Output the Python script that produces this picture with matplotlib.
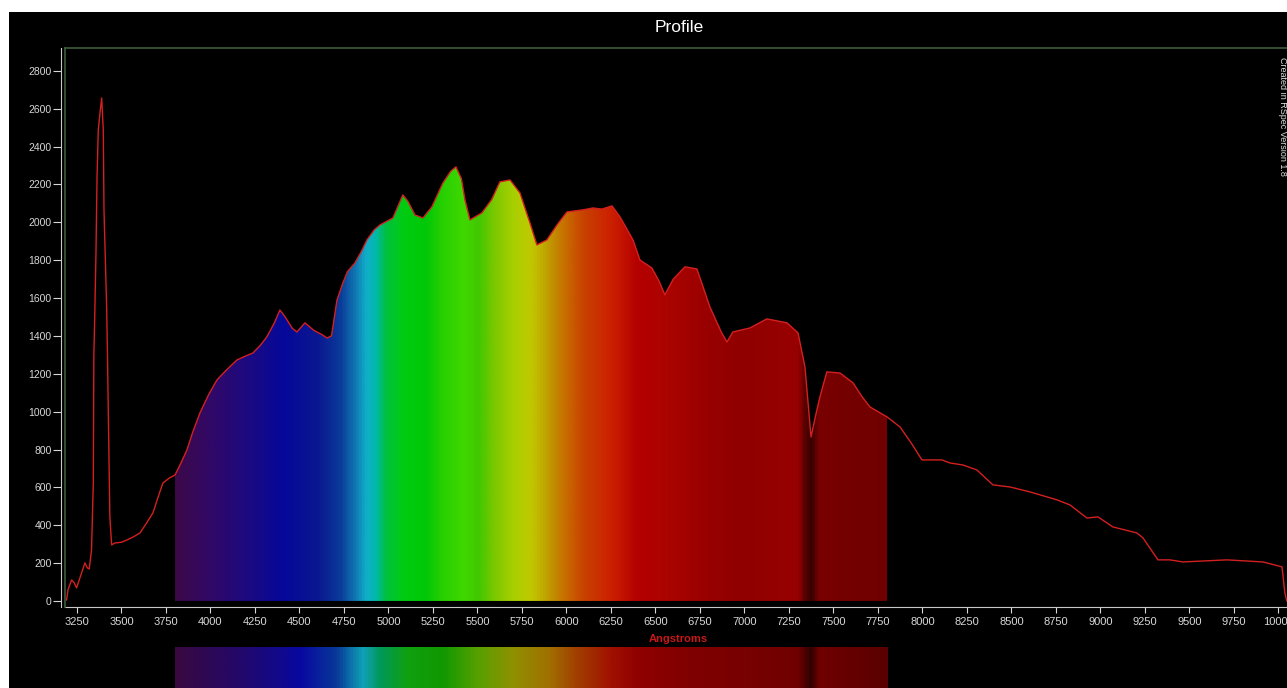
import numpy as np
import matplotlib.pyplot as plt
from matplotlib.colors import LinearSegmentedColormap
from matplotlib.patches import Rectangle

plt.rcParams['font.family'] = ['Liberation Sans', 'DejaVu Sans']

# -----------------------------
# Profile data
# -----------------------------
wavelength = [3192, 3200, 3220, 3235, 3248, 3270, 3295, 3308, 3319, 3332,
              3342, 3345, 3350, 3357, 3363, 3370, 3382, 3389, 3398, 3402,
              3417, 3422, 3435, 3445, 3463, 3500, 3531, 3570, 3604, 3640,
              3677, 3710, 3733, 3770, 3801, 3835, 3868, 3900, 3941, 3990,
              4037, 4090, 4149, 4200, 4239, 4280, 4317, 4360, 4390, 4420,
              4460, 4486, 4531, 4580, 4630, 4655, 4680, 4711, 4744, 4770,
              4812, 4850, 4879, 4920, 4952, 5000, 5025, 5060, 5081, 5110,
              5149, 5194, 5244, 5306, 5350, 5379, 5410, 5430, 5458, 5525,
              5580, 5626, 5683, 5739, 5795, 5834, 5890, 5950, 6003, 6093,
              6149, 6200, 6256, 6301, 6374, 6413, 6480, 6520, 6553, 6600,
              6666, 6733, 6806, 6870, 6902, 6935, 7031, 7126, 7239, 7301,
              7340, 7374, 7400, 7424, 7463, 7537, 7610, 7660, 7705, 7801,
              7874, 7940, 7997, 8110, 8154, 8228, 8306, 8396, 8492, 8604,
              8756, 8829, 8924, 8986, 9070, 9205, 9239, 9323, 9390, 9463,
              9711, 9913, 10020, 10036, 10047]
counts = [5, 60, 111, 95, 69, 130, 201, 175, 169, 269,
          623, 1289, 1500, 1838, 2240, 2488, 2600, 2657, 2488, 2066,
          1553, 1273, 444, 296, 306, 310, 322, 340, 359, 410,
          465, 560, 623, 650, 665, 730, 798, 890, 993, 1090,
          1168, 1220, 1273, 1295, 1310, 1350, 1395, 1470, 1537, 1500,
          1440, 1421, 1469, 1430, 1405, 1389, 1400, 1590, 1680, 1740,
          1786, 1850, 1907, 1960, 1986, 2010, 2023, 2100, 2145, 2110,
          2039, 2023, 2082, 2208, 2270, 2293, 2230, 2118, 2013, 2050,
          2120, 2214, 2224, 2155, 1997, 1881, 1907, 1990, 2055, 2066,
          2076, 2070, 2087, 2029, 1907, 1801, 1759, 1690, 1617, 1700,
          1765, 1754, 1553, 1420, 1368, 1421, 1442, 1490, 1469, 1416,
          1236, 866, 980, 1078, 1210, 1204, 1152, 1080, 1025, 972,
          919, 830, 745, 745, 729, 718, 692, 613, 602, 576,
          534, 507, 438, 444, 391, 359, 333, 217, 217, 206,
          217, 206, 180, 42, 0]

x_ticks = list(range(3250, 10001, 250))
y_ticks = list(range(0, 2801, 200))

# colour stops of the spectrum fill and of the strip under the axis
fill_stops = [3800, 4000, 4200, 4400, 4600, 4720, 4800, 4870, 4920, 4980,
              5080, 5200, 5300, 5420, 5500, 5600, 5700, 5800, 5900, 6000,
              6100, 6250, 6400, 6600, 6800, 7000, 7300, 7350, 7380, 7420, 7800]
fill_colors = ['#3c0848', '#300868', '#1c0a80', '#06089a', '#0a1890', '#0a3a98',
               '#1070b0', '#10b0c8', '#00b8b0', '#00c040', '#00cc10', '#00c808',
               '#28d000', '#40d800', '#40c800', '#80c800', '#a8d000', '#c0c800',
               '#c09a00', '#c86800', '#c84000', '#cc2000', '#b40000', '#a80400',
               '#980000', '#900000', '#980000', '#500000', '#380000', '#780000',
               '#700000']
strip_stops = [3800, 4200, 4500, 4700, 4850, 4950, 5100, 5300, 5500, 5700,
               5900, 6050, 6250, 6400, 6700, 7000, 7300, 7350, 7380, 7420, 7800]
strip_colors = ['#3a0840', '#200870', '#0808a0', '#083898', '#10a0b8', '#009858',
                '#10a010', '#109800', '#58a000', '#909000', '#a07000', '#a04000',
                '#a01000', '#900000', '#800000', '#780000', '#700000', '#480000',
                '#300000', '#700000', '#5a0000']


def make_cmap(stops, colors):
    pos = [(s - stops[0]) / (stops[-1] - stops[0]) for s in stops]
    return LinearSegmentedColormap.from_list('spec', list(zip(pos, colors)))


W, H = 1287, 688
fig = plt.figure(figsize=(W / 100, H / 100), dpi=100, facecolor='white')
fig.patches.append(Rectangle((9 / W, 0), 1, (H - 12) / H, transform=fig.transFigure,
                             facecolor='black', edgecolor='none', zorder=-10))

ax = fig.add_axes([65 / W, 81 / H, 1 - 65 / W, (607 - 48) / H])
ax.set_facecolor('black')
ax.set_xlim(3183, 10048)
ax.set_ylim(-32, 2921)

# spectrum coloured fill under the curve
wl = np.array(wavelength)
ct = np.array(counts)
mask = (wl >= 3800) & (wl <= 7801)
poly = ax.fill_between(wl[mask], 0, ct[mask], facecolor='none', edgecolor='none')
grad = np.linspace(0, 1, 1000).reshape(1, -1)
im = ax.imshow(grad, cmap=make_cmap(fill_stops, fill_colors), aspect='auto',
               extent=[3800, 7800, 0, 2921], interpolation='bilinear', zorder=1)
im.set_clip_path(poly.get_paths()[0], transform=ax.transData)

ax.plot(wl, ct, color='#d42020', lw=1.0, zorder=3)

# frame and axes
for s in ['top', 'right']:
    ax.spines[s].set_visible(False)
ax.spines['left'].set_position(('outward', 3))
ax.spines['left'].set_color('#c8c8c8')
ax.spines['bottom'].set_color('#c8c8c8')
ax.plot([0, 0], [0, 1], transform=ax.transAxes, color='#3c5c3c', lw=1.2, clip_on=False, zorder=4)
ax.plot([0, 1], [1, 1], transform=ax.transAxes, color='#3c5c3c', lw=1.2, clip_on=False, zorder=4)

ax.set_xticks(x_ticks)
ax.set_yticks(y_ticks)
ax.tick_params(axis='x', colors='#d8d8d8', length=4, pad=3, labelsize=8)
ax.tick_params(axis='y', colors='#d8d8d8', length=5.5, pad=1, labelsize=7.5)
ax.set_xticklabels([str(t) for t in x_ticks])

fig.text(679 / W, 1 - 27 / H, 'Profile', color='white', fontsize=12.5,
         ha='center', va='center')
fig.text(678 / W, 1 - 639 / H, 'Angstroms', color='#c81818', fontsize=8,
         fontweight='bold', ha='center', va='center')
fig.text(1283 / W, 1 - 57 / H, 'Created in RSpec Version 1.8', color='#e0e0e0',
         fontsize=6.5, rotation=270, ha='center', va='top')

# spectrum strip below the axis
sax = fig.add_axes([65 / W, 0, 1 - 65 / W, (H - 647) / H])
sax.set_xlim(3183, 10048)
sax.set_ylim(0, 1)
sax.imshow(grad, cmap=make_cmap(strip_stops, strip_colors), aspect='auto',
           extent=[3800, 7800, 0, 1], interpolation='bilinear')
sax.axis('off')

fig.savefig('out.png', dpi=100, facecolor=fig.get_facecolor())
